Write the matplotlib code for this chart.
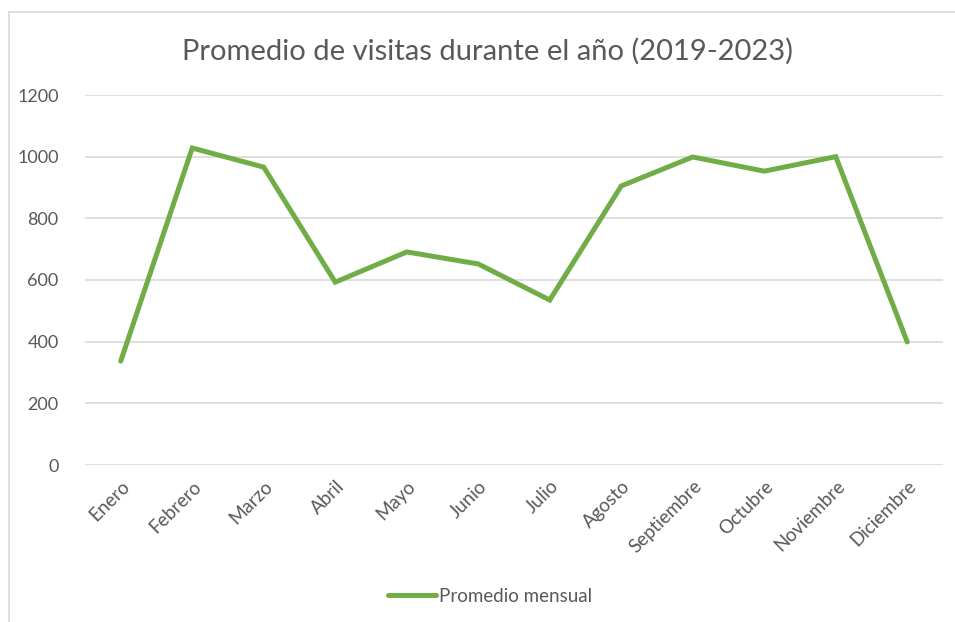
import matplotlib
matplotlib.use("Agg")
import matplotlib.pyplot as plt
from matplotlib.lines import Line2D

# monthly averages
meses = ["Enero", "Febrero", "Marzo", "Abril", "Mayo", "Junio", "Julio",
         "Agosto", "Septiembre", "Octubre", "Noviembre", "Diciembre"]
promedio = [337, 1028, 966, 593, 691, 652, 535, 905, 999, 953, 1000, 399]
y_ticks = [0, 200, 400, 600, 800, 1000, 1200]

plt.rcParams['font.family'] = ['Lato', 'DejaVu Sans']

fig = plt.figure(figsize=(9.55, 6.22), dpi=100)
ax = fig.add_axes([85 / 955, 157 / 622, 858 / 955, 370 / 622])

x = list(range(len(meses)))
ax.plot(x, promedio, color="#70AD47", linewidth=3.6, solid_joinstyle="miter",
        solid_capstyle="round", label="Promedio mensual", zorder=3)

ax.set_xlim(-0.5, len(meses) - 0.5)
ax.set_ylim(0, 1200)
ax.set_yticks(y_ticks)
ax.set_yticklabels([str(v) for v in y_ticks], color="#595959", fontsize=13)
ax.set_xticks(x)
ax.set_xticklabels(meses, rotation=45, ha="right", rotation_mode="anchor",
                   color="#595959", fontsize=13.5)
ax.tick_params(axis="both", length=0)
ax.tick_params(axis="y", pad=19)
ax.tick_params(axis="x", pad=9)
ax.grid(axis="y", color="#D9D9D9", linewidth=1.2)
ax.set_axisbelow(True)
for s in ax.spines.values():
    s.set_visible(False)

fig.text(487 / 955, 1 - 51 / 622, "Promedio de visitas durante el año (2019-2023)",
         ha="center", va="center", fontsize=21, color="#595959")

handle = Line2D([], [], color="#70AD47", linewidth=3.6, solid_capstyle="round")
fig.legend([handle], ["Promedio mensual"], loc="center", bbox_to_anchor=(490 / 955, 1 - 596 / 622),
           frameon=False, fontsize=13.5, handlelength=2.6, handletextpad=0.15,
           labelcolor="#595959")

# light chart-area border (left and top visible)
fig.add_artist(Line2D([9 / 955, 9 / 955], [0, 1 - 12 / 622], color="#D9D9D9", linewidth=1.2))
fig.add_artist(Line2D([9 / 955, 1], [1 - 12 / 622, 1 - 12 / 622], color="#D9D9D9", linewidth=1.2))

fig.savefig("out.png", dpi=100)
